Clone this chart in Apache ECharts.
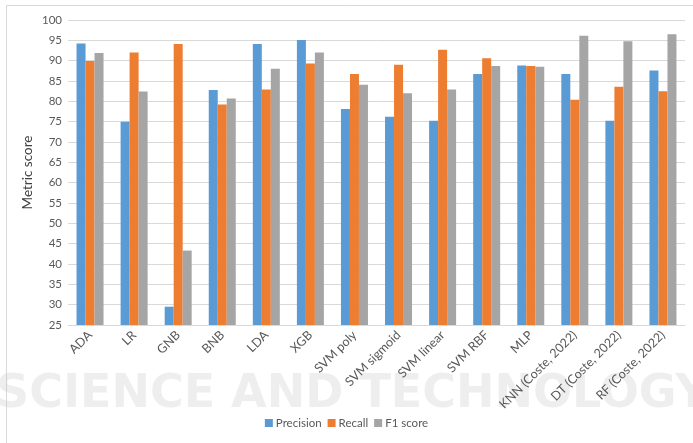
<!DOCTYPE html>
<html>
<head>
<meta charset="utf-8">
<script src="https://cdn.jsdelivr.net/npm/echarts@6/dist/echarts.min.js"></script>
<style>
  html, body { margin: 0; padding: 0; background: #fff; }
  #chart { width: 693px; height: 443px; }
</style>
</head>
<body>
<div id="chart"></div>
<script>
// Classifier names along the x axis
const models = ['ADA', 'LR', 'GNB', 'BNB', 'LDA', 'XGB', 'SVM poly', 'SVM sigmoid',
  'SVM linear', 'SVM RBF', 'MLP', 'KNN (Coste, 2022)', 'DT (Coste, 2022)', 'RF (Coste, 2022)'];

// Scores per metric (%)
const precision = [94.2, 75.0, 29.5, 82.8, 94.1, 95.1, 78.1, 76.2, 75.2, 86.7, 88.8, 86.7, 75.2, 87.6];
const recall    = [89.9, 92.0, 94.1, 79.2, 82.9, 89.3, 86.7, 89.0, 92.7, 90.6, 88.7, 80.4, 83.6, 82.5];
const f1score   = [91.9, 82.4, 43.3, 80.7, 88.0, 92.0, 84.1, 82.0, 82.9, 88.7, 88.5, 96.1, 94.8, 96.5];

const seriesNames = ['Precision', 'Recall', 'F1 score'];
const seriesColors = ['#5B9BD5', '#ED7D31', '#A5A5A5'];

const FONT = 'Lato, "Open Sans", sans-serif';
const chart = echarts.init(document.getElementById('chart'), null, { renderer: 'canvas' });

chart.setOption({
  animation: false,
  backgroundColor: '#ffffff',
  textStyle: { fontFamily: FONT },
  graphic: [
    {
      type: 'rect', silent: true, z: -10,
      shape: { x: 6.5, y: 5.5, width: 700, height: 450 },
      style: { fill: 'none', stroke: '#D9D9D9', lineWidth: 1 }
    },
    {
      type: 'text', silent: true, z: -5, left: -4, top: 372,
      style: {
        text: 'SCIENCE AND TECHNOLOGY',
        font: 'bold 46px "DejaVu Sans", sans-serif',
        fill: 'rgba(200,200,200,0.3)'
      }
    }
  ],
  grid: { left: 68, right: 8, top: 20, bottom: 118, containLabel: false },
  legend: {
    data: seriesNames,
    bottom: 9,
    left: 'center',
    itemWidth: 8,
    itemHeight: 8,
    itemGap: 6,
    icon: 'rect',
    textStyle: { color: '#595959', fontSize: 11.5, fontFamily: FONT, padding: [0, 0, 0, -2] }
  },
  xAxis: {
    type: 'category',
    data: models,
    axisLine: { show: true, lineStyle: { color: '#D9D9D9' } },
    axisTick: { show: false },
    axisLabel: { rotate: 45, color: '#595959', fontSize: 12.5, fontFamily: FONT, margin: 8, interval: 0 }
  },
  yAxis: {
    type: 'value',
    min: 25,
    max: 100,
    interval: 5,
    name: 'Metric score',
    nameLocation: 'middle',
    nameGap: 33,
    nameMoveOverlap: false,
    nameTextStyle: { color: '#404040', fontSize: 13.5, fontFamily: FONT },
    axisLine: { show: false },
    axisTick: { show: false },
    axisLabel: { color: '#595959', fontSize: 11.5, fontFamily: FONT, margin: 6 },
    splitLine: { lineStyle: { color: '#D9D9D9', width: 1 } }
  },
  series: [precision, recall, f1score].map((vals, i) => ({
    name: seriesNames[i],
    type: 'bar',
    data: vals,
    barWidth: 9,
    barGap: '0%',
    itemStyle: { color: seriesColors[i] }
  }))
});
</script>
</body>
</html>
